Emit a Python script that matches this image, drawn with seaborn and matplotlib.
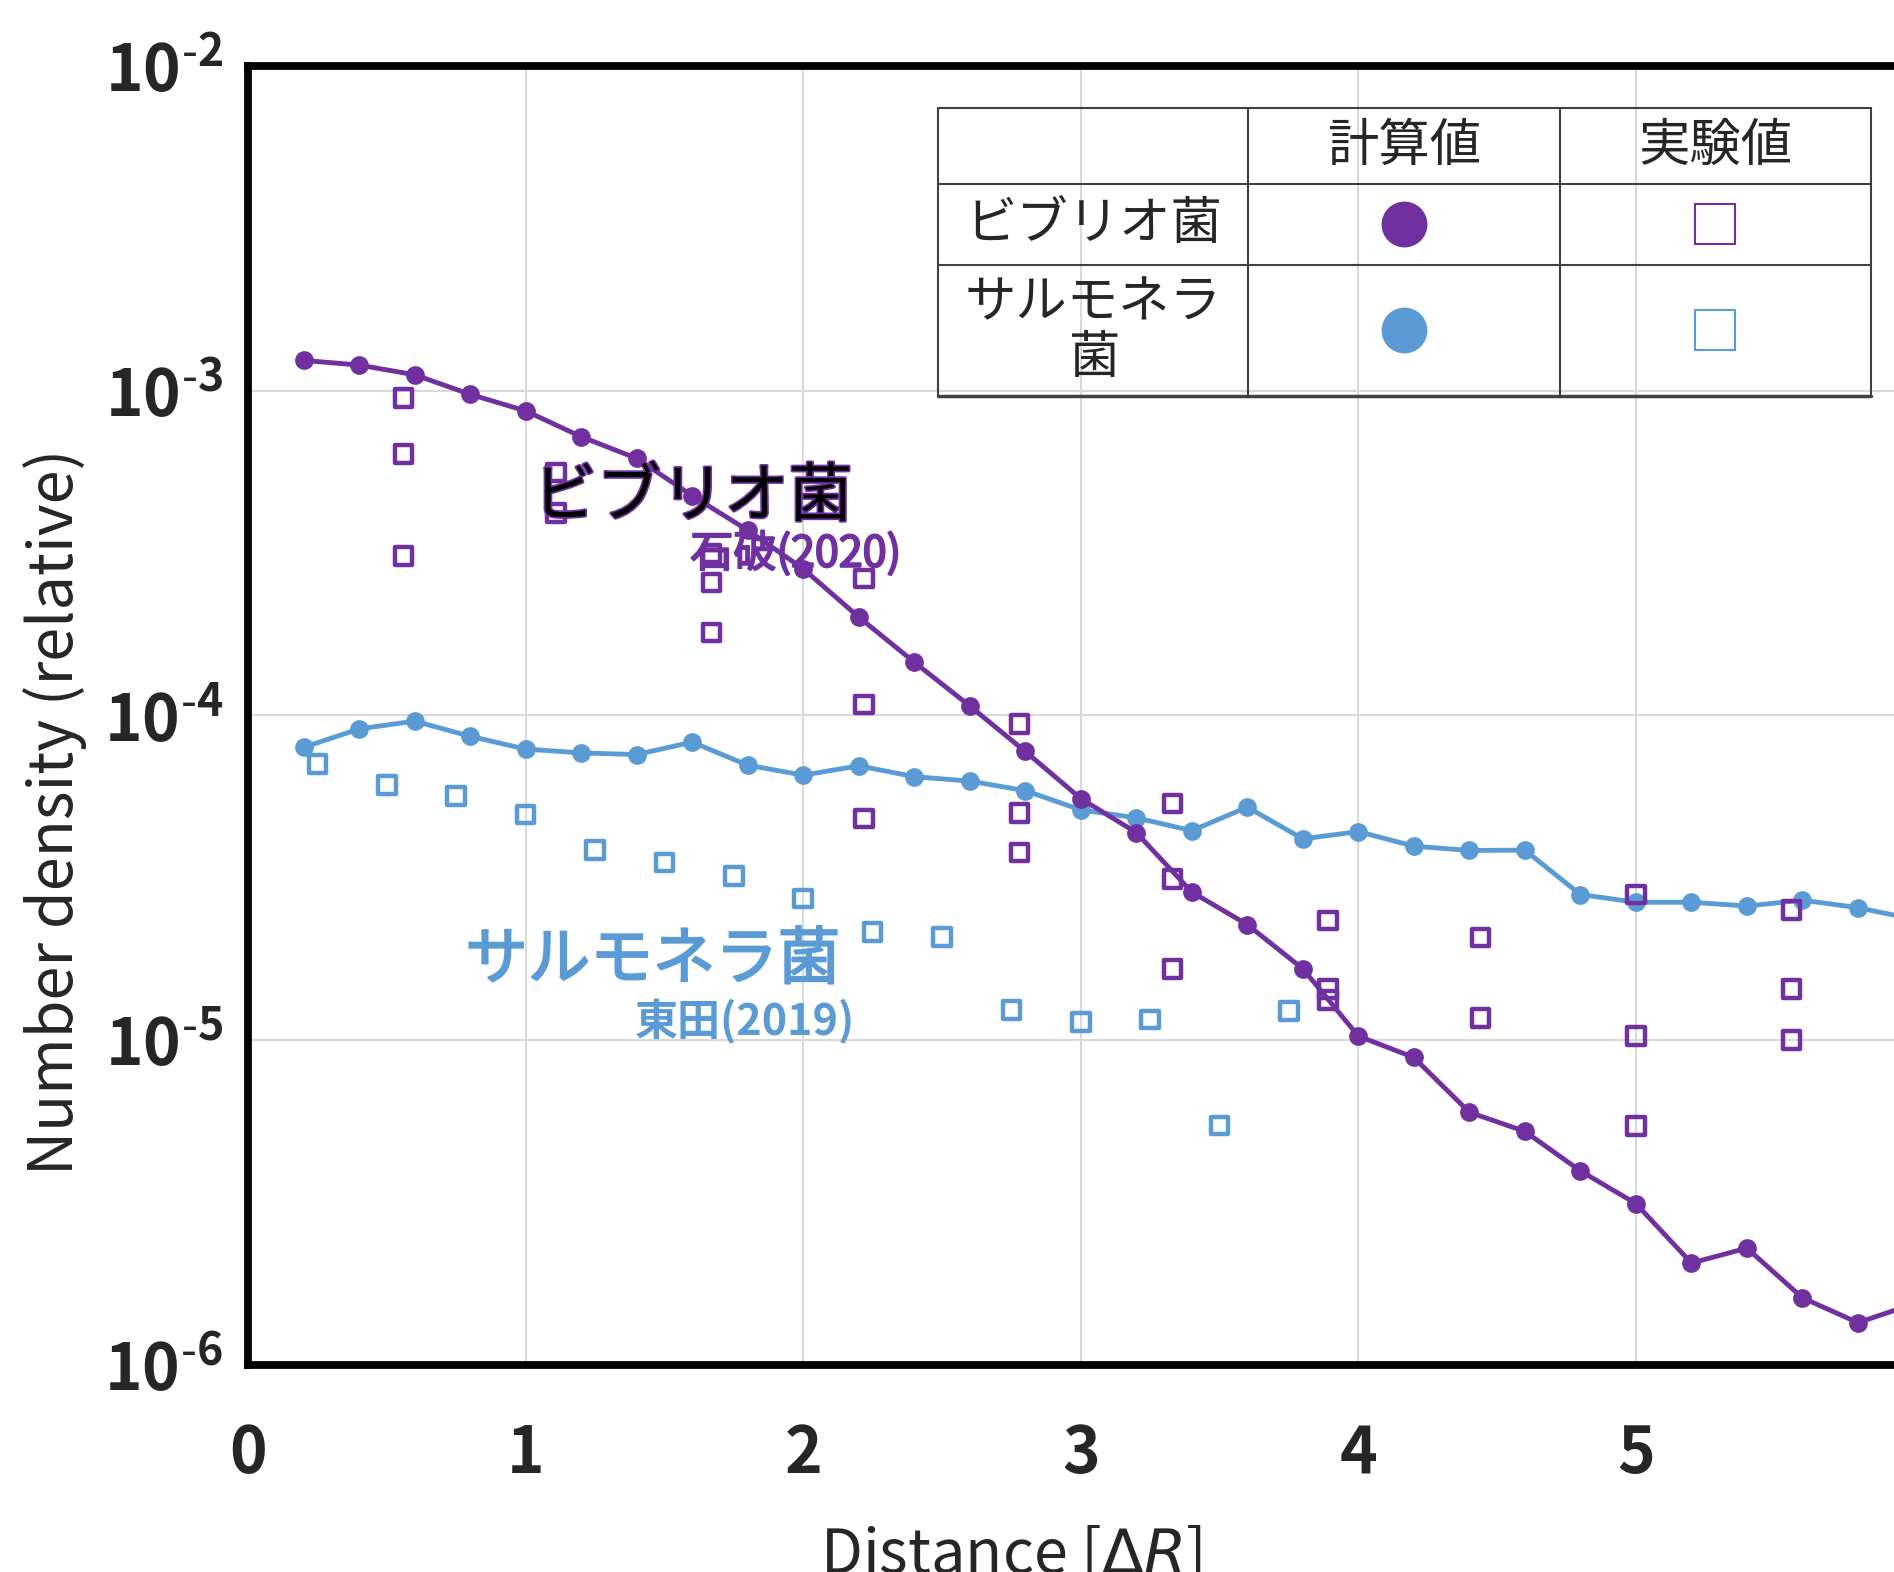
import numpy as np
import pandas as pd
import matplotlib
matplotlib.use('Agg')
import matplotlib.pyplot as plt
import matplotlib.patheffects as pe
from matplotlib.ticker import LogLocator, NullFormatter, FixedLocator, FuncFormatter
import seaborn as sns

PURPLE = '#7030A0'
BLUE = '#5B9BD5'

# --- calculated values (every 0.2 dR) ---
calc_x = [0.2, 0.4, 0.6, 0.8, 1.0, 1.2, 1.4, 1.6, 1.8, 2.0,
          2.2, 2.4, 2.6, 2.8, 3.0, 3.2, 3.4, 3.6, 3.8, 4.0,
          4.2, 4.4, 4.6, 4.8, 5.0, 5.2, 5.4, 5.6, 5.8, 6.0]
vibrio_calc = [1.24e-3, 1.20e-3, 1.12e-3, 9.75e-4, 8.67e-4, 7.22e-4, 6.19e-4, 4.75e-4, 3.72e-4, 2.83e-4,
               2.01e-4, 1.46e-4, 1.07e-4, 7.75e-5, 5.55e-5, 4.36e-5, 2.86e-5, 2.27e-5, 1.66e-5, 1.03e-5,
               8.85e-6, 6.0e-6, 5.24e-6, 3.96e-6, 3.14e-6, 2.06e-6, 2.29e-6, 1.61e-6, 1.35e-6, 1.54e-6]
salmonella_calc = [7.98e-5, 9.09e-5, 9.61e-5, 8.63e-5, 7.88e-5, 7.67e-5, 7.58e-5, 8.28e-5, 7.03e-5, 6.55e-5,
                   7.0e-5, 6.48e-5, 6.28e-5, 5.87e-5, 5.12e-5, 4.84e-5, 4.42e-5, 5.22e-5, 4.17e-5, 4.39e-5,
                   3.96e-5, 3.84e-5, 3.85e-5, 2.81e-5, 2.66e-5, 2.66e-5, 2.59e-5, 2.70e-5, 2.56e-5, 2.36e-5]

# --- experimental values ---
salmonella_exp_x = [0.25, 0.5, 0.75, 1.0, 1.25, 1.5, 1.75, 2.0, 2.25, 2.5, 2.75, 3.0, 3.25, 3.5, 3.75]
salmonella_exp = [7.09e-5, 6.12e-5, 5.66e-5, 4.95e-5, 3.85e-5, 3.53e-5, 3.20e-5, 2.73e-5, 2.15e-5, 2.08e-5,
                  1.24e-5, 1.14e-5, 1.16e-5, 5.47e-6, 1.23e-5]

vibrio_exp_x = [0.56, 0.56, 0.56, 1.11, 1.11, 1.67, 1.67, 1.67, 2.22, 2.22, 2.22,
                2.78, 2.78, 2.78, 3.33, 3.33, 3.33, 3.89, 3.89, 3.89, 4.44, 4.44,
                5.0, 5.0, 5.0, 5.56, 5.56, 5.56]
vibrio_exp = [9.5e-4, 6.39e-4, 3.10e-4, 5.6e-4, 4.2e-4, 3.15e-4, 2.57e-4, 1.80e-4, 2.64e-4, 1.08e-4, 4.81e-5,
              9.4e-5, 5.0e-5, 3.79e-5, 5.36e-5, 3.14e-5, 1.66e-5, 2.34e-5, 1.44e-5, 1.33e-5, 2.07e-5, 1.17e-5,
              2.81e-5, 1.03e-5, 5.44e-6, 2.52e-5, 1.44e-5, 1.00e-5]

x_ticks = [0, 1, 2, 3, 4, 5]

sns.set_style("white")
plt.rcParams['font.family'] = ['Noto Sans CJK JP', 'DejaVu Sans']
plt.rcParams['axes.unicode_minus'] = False

fig = plt.figure(figsize=(18.94, 15.72), dpi=100)
ax = fig.add_axes([0.131, 0.1317, 0.869, 0.8263])

# calculated lines
sns.lineplot(x=calc_x, y=salmonella_calc, ax=ax, color=BLUE, lw=3.5,
             marker='o', markersize=13.5, markeredgewidth=0, zorder=3)
sns.lineplot(x=calc_x, y=vibrio_calc, ax=ax, color=PURPLE, lw=3.5,
             marker='o', markersize=13.5, markeredgewidth=0, zorder=4)

# experimental squares
sns.scatterplot(x=salmonella_exp_x, y=salmonella_exp, ax=ax, marker='s', s=160,
                facecolor='none', edgecolor=BLUE, linewidth=3.2, zorder=5)
sns.scatterplot(x=vibrio_exp_x, y=vibrio_exp, ax=ax, marker='s', s=160,
                facecolor='none', edgecolor=PURPLE, linewidth=3.2, zorder=5)

ax.set_yscale('log')
ax.set_ylim(1e-6, 1e-2)
ax.set_xlim(0, 5.93)
ax.xaxis.set_major_locator(FixedLocator(x_ticks))
ax.yaxis.set_major_locator(LogLocator(base=10, numticks=10))
ax.yaxis.set_major_formatter(FuncFormatter(
    lambda v, pos: r'$\mathdefault{10^{\text{-}%d}}$' % round(-np.log10(v))))
ax.yaxis.set_minor_locator(LogLocator(base=10, subs=np.arange(2, 10), numticks=20))
ax.yaxis.set_minor_formatter(NullFormatter())

ax.set_axisbelow(True)
ax.grid(True, which='major', color='#d9d9d9', lw=1.5)

for side in ['left', 'bottom', 'top']:
    ax.spines[side].set_linewidth(5.6)
    ax.spines[side].set_color('black')
ax.spines['right'].set_visible(False)

ax.tick_params(axis='y', which='major', direction='in', length=8.5, width=5, pad=18, labelsize=46)
ax.tick_params(axis='y', which='minor', direction='in', length=6.5, width=5)
ax.tick_params(axis='x', which='major', length=0, pad=41, labelsize=46)
for lbl in ax.get_xticklabels() + ax.get_yticklabels():
    lbl.set_fontweight('bold')

# axis titles
ax.text(-0.1174, 0.426, 'Number density (relative)', fontsize=44, rotation=90,
        ha='center', va='center', transform=ax.transAxes)
ax.text(0.4638, -0.1228, r'Distance [$\mathit{\Delta R}$]', fontsize=44,
        ha='center', va='top', transform=ax.transAxes)

# series labels
ax.text(1.602, 4.69e-4, 'ビブリオ菌', fontsize=46, color='black', ha='center', va='center', zorder=6,
        path_effects=[pe.withStroke(linewidth=2.5, foreground=PURPLE)])
ax.text(1.973, 3.13e-4, '石破(2020)', fontsize=31, color=PURPLE, ha='center', va='center', zorder=6,
        path_effects=[pe.withStroke(linewidth=1.5, foreground=PURPLE)])
ax.text(1.458, 1.76e-5, 'サルモネラ菌', fontsize=45, color=BLUE, ha='center', va='center', zorder=6,
        path_effects=[pe.withStroke(linewidth=1.5, foreground=BLUE)])
ax.text(1.788, 1.14e-5, '東田(2019)', fontsize=31, color=BLUE, fontweight='bold', ha='center', va='center', zorder=6)

# legend table drawn in figure coordinates
lg = fig.add_axes([0, 0, 1, 1], zorder=10)
lg.set_axis_off()
lg.set_xlim(0, 1)
lg.set_ylim(0, 1)
col_edges = [0.4955, 0.6591, 0.8236, 0.9876]
row_edges = [0.9315, 0.8831, 0.8314, 0.7483]
for xe in col_edges:
    lg.plot([xe, xe], [row_edges[-1], row_edges[0]], color='#404040', lw=1.5)
for i, ye in enumerate(row_edges):
    lg.plot([col_edges[0], col_edges[-1]], [ye, ye], color='#404040', lw=2.5 if i == 3 else 1.5)

col_c = [(col_edges[i] + col_edges[i + 1]) / 2 for i in range(3)]
row_c = [(row_edges[i] + row_edges[i + 1]) / 2 for i in range(3)]
lg.text(col_c[1], row_c[0], '計算値', fontsize=37, ha='center', va='center')
lg.text(col_c[2], row_c[0], '実験値', fontsize=37, ha='center', va='center')
lg.text(col_c[0], row_c[1], 'ビブリオ菌', fontsize=37, ha='center', va='center')
lg.text(col_c[0], row_c[2], 'サルモネラ\n菌', fontsize=37, ha='center', va='center', linespacing=1.05)
lg.plot(col_c[1], row_c[1], 'o', ms=33, color=PURPLE, mew=0)
lg.plot(col_c[1], row_c[2], 'o', ms=33, color=BLUE, mew=0)
lg.plot(col_c[2], row_c[1], 's', ms=29, mfc='none', mec=PURPLE, mew=1.5)
lg.plot(col_c[2], row_c[2], 's', ms=29, mfc='none', mec=BLUE, mew=1.5)

fig.savefig('out.png', dpi=100)
